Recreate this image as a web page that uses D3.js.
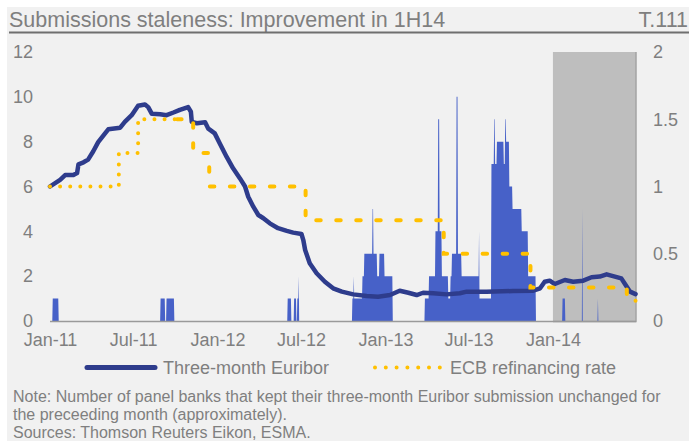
<!DOCTYPE html>
<html><head><meta charset="utf-8">
<script src="https://cdn.jsdelivr.net/npm/d3@7"></script>
<style>
html,body{margin:0;padding:0;background:#fff;}
svg{display:block;font-family:"Liberation Sans",Arial,sans-serif;}
</style></head><body>
<svg id="c" width="689" height="441"></svg>
<script>
// ---------- data ----------
const titleText = "Submissions staleness: Improvement in 1H14";
const tableId = "T.111";
const xTickDates = ["2011-01-01","2011-07-01","2012-01-01","2012-07-01","2013-01-01","2013-07-01","2014-01-01"];
const leftTicks = [0,2,4,6,8,10,12];
const rightTicks = [0,0.5,1,1.5,2];
const shadedPeriod = ["2014-01-01","2014-07-01"];
const legendLabels = ["Three-month Euribor","ECB refinancing rate"];
const notes = [
  "Note: Number of panel banks that kept their three-month Euribor submission unchanged for",
  "the preceeding month (approximately).",
  "Sources: Thomson Reuters Eikon, ESMA."
];
// number of panel banks with unchanged submission (value holds from date until next entry)
const staleBanks = [
  ["2011-01-01",0],["2011-01-07",1],["2011-01-20",0],
  ["2011-08-30",1],["2011-09-09",0],["2011-09-12",1],["2011-09-29",0],
  ["2012-06-02",1],["2012-06-10",0],["2012-06-16",1],["2012-06-21",0],["2012-06-23",1],["2012-06-26",2],["2012-06-27",0],
  ["2012-10-21",1],["2012-10-24",2],["2012-10-25",1],["2012-11-12",2],["2012-11-16",3],["2012-12-04",5],["2012-12-06",3],
  ["2012-12-14",2],["2012-12-19",3],["2012-12-30",2],["2013-01-17",0],
  ["2013-03-28",1],["2013-04-06",2],["2013-04-20",4],["2013-04-26",9],["2013-04-29",4],["2013-05-04",2],["2013-05-18",1],
  ["2013-05-23",2],["2013-05-26",3],["2013-06-05",10],["2013-06-08",3],["2013-06-16",2],["2013-07-24",4],["2013-07-25",1],
  ["2013-08-20",7],["2013-08-26",9],["2013-08-28",7],["2013-09-01",8],["2013-09-16",7],["2013-09-19",9],["2013-09-21",8],
  ["2013-09-28",6],["2013-10-05",5],["2013-10-25",4],["2013-11-08",2],["2013-11-25",0],
  ["2014-01-22",1],["2014-01-28",0],["2014-03-06",5],["2014-03-07",0],["2014-04-09",1],["2014-04-10",0],["2014-06-30",0]
];
// three-month Euribor, %
const euribor = [
  ["2011-01-01",1.00],["2011-01-23",1.05],["2011-02-03",1.085],["2011-02-21",1.085],["2011-03-01",1.10],["2011-03-04",1.165],
  ["2011-03-15",1.18],["2011-03-25",1.20],["2011-04-05",1.26],["2011-04-16",1.33],["2011-05-01",1.395],["2011-05-08",1.425],
  ["2011-06-03",1.437],["2011-06-13",1.48],["2011-06-28",1.53],["2011-07-12",1.60],["2011-07-27",1.61],["2011-08-03",1.59],
  ["2011-08-11",1.54],["2011-08-29",1.537],["2011-09-12",1.53],["2011-09-27",1.55],["2011-10-11",1.57],["2011-10-29",1.59],
  ["2011-11-04",1.556],["2011-11-06",1.48],["2011-11-17",1.47],["2011-12-05",1.477],["2011-12-12",1.43],["2011-12-26",1.395],
  ["2012-01-06",1.32],["2012-01-21",1.22],["2012-02-04",1.135],["2012-02-19",1.06],["2012-03-01",1.00],["2012-03-08",0.924],
  ["2012-03-19",0.85],["2012-03-30",0.788],["2012-04-10",0.764],["2012-04-24",0.726],["2012-05-12",0.69],["2012-05-31",0.67],
  ["2012-06-14",0.657],["2012-07-02",0.647],["2012-07-06",0.602],["2012-07-10",0.528],["2012-07-20",0.429],["2012-08-04",0.355],
  ["2012-08-22",0.292],["2012-09-09",0.243],["2012-09-28",0.218],["2012-10-23",0.198],["2012-11-21",0.186],["2012-12-16",0.181],
  ["2013-01-11",0.193],["2013-02-01",0.225],["2013-02-20",0.21],["2013-03-10",0.193],["2013-03-24",0.21],["2013-04-15",0.206],
  ["2013-05-14",0.198],["2013-06-12",0.206],["2013-06-27",0.218],["2013-08-09",0.218],["2013-10-06",0.223],["2013-11-19",0.225],
  ["2013-12-04",0.243],["2013-12-14",0.292],["2013-12-25",0.30],["2014-01-05",0.275],["2014-01-27",0.305],["2014-02-14",0.292],
  ["2014-03-08",0.30],["2014-03-26",0.325],["2014-04-13",0.33],["2014-04-28",0.347],["2014-05-16",0.33],["2014-05-30",0.317],
  ["2014-06-07",0.275],["2014-06-18",0.218],["2014-06-30",0.20]
];
// ECB main refinancing rate, % (step changes)
const ecbRate = [
  ["2011-01-01",1.00],["2011-05-31",1.25],["2011-07-12",1.50],["2011-11-09",1.25],["2011-12-14",1.00],
  ["2012-07-11",0.75],["2013-05-08",0.50],["2013-11-13",0.25],["2014-06-11",0.15],["2014-06-30",0.15]
];
const ecbStyleSwitch = ["2011-09-30","2011-10-05"]; // dotted until first date, dashed from second

// ---------- drawing ----------
const parse = d3.timeParse("%Y-%m-%d");
const svg = d3.select("#c");
const W = 689, H = 441;
const plot = {left:50, right:636, top:52, bottom:321};
const textCol = "#7f7f7f";

svg.append("rect").attr("x",7).attr("y",7).attr("width",W-7).attr("height",H-7).attr("fill","#f1f1f1");

// title
svg.append("text").attr("x",9).attr("y",27).attr("fill",textCol).style("font-size","21.5px").text(titleText);
svg.append("text").attr("x",688).attr("y",27).attr("text-anchor","end").attr("fill",textCol).style("font-size","21.5px").text(tableId);
svg.append("line").attr("x1",9).attr("x2",689).attr("y1",32.5).attr("y2",32.5).attr("stroke","#6f6f6f").attr("stroke-width",2);

const x = d3.scaleTime().domain([parse("2011-01-01"), parse("2014-07-01")]).range([plot.left, plot.right]);
const yL = d3.scaleLinear().domain([0,12]).range([plot.bottom, plot.top]);
const yR = d3.scaleLinear().domain([0,2]).range([plot.bottom, plot.top]);

// shaded period
svg.append("rect")
  .attr("x", x(parse(shadedPeriod[0]))).attr("y", plot.top)
  .attr("width", x(parse(shadedPeriod[1])) - x(parse(shadedPeriod[0])))
  .attr("height", plot.bottom - plot.top)
  .attr("fill","#bebebe");
svg.append("path")
  .attr("d", `M${x(parse(shadedPeriod[1]))},${plot.top} V${plot.bottom+0.5} H${x(parse(shadedPeriod[0]))}`)
  .attr("fill","none").attr("stroke","#a4a4a4").attr("stroke-width",1.5);

// stale banks area: expand step changes to daily observations, drawn as a linear area (as with daily data)
const changes = staleBanks.map(d => ({t: parse(d[0]), v: d[1]}));
const days = d3.timeDay.range(changes[0].t, d3.timeDay.offset(changes[changes.length-1].t, 1));
let ci = 0;
const daily = days.map(t => {
  while (ci + 1 < changes.length && changes[ci+1].t <= t) ci++;
  return {t, v: changes[ci].v};
});
svg.append("path").datum(daily)
  .attr("d", d3.area().x(d => x(d.t)).y0(yL(0)).y1(d => yL(d.v)))
  .attr("fill","#4761c8");

// baseline
svg.append("line").attr("x1",plot.left).attr("x2",plot.right).attr("y1",plot.bottom+0.5).attr("y2",plot.bottom+0.5)
  .attr("stroke","#9a9a9a").attr("stroke-width",1.5);

// Euribor
const eur = euribor.map(d => ({t: parse(d[0]), v: d[1]}));
svg.append("path").datum(eur)
  .attr("d", d3.line().x(d => x(d.t)).y(d => yR(d.v)))
  .attr("fill","none").attr("stroke","#2e3c8c").attr("stroke-width",4.5)
  .attr("stroke-linejoin","round").attr("stroke-linecap","round");

// ECB
const ecb = ecbRate.map(d => ({t: parse(d[0]), v: d[1]}));
function valueAt(t){ let v = ecb[0].v; for (const d of ecb) if (d.t <= t) v = d.v; return v; }
function slice(t0, t1){
  const pts = [{t:t0, v:valueAt(t0)}];
  ecb.forEach(d => { if (d.t > t0 && d.t < t1) pts.push(d); });
  pts.push({t:t1, v:valueAt(t1)});
  return pts;
}
const ecbLine = d3.line().x(d => x(d.t)).y(d => yR(d.v)).curve(d3.curveStepAfter);
const tStart = ecb[0].t, tEnd = ecb[ecb.length-1].t;
svg.append("path").datum(slice(tStart, parse(ecbStyleSwitch[0])))
  .attr("d", ecbLine).attr("fill","none").attr("stroke","#ffc000").attr("stroke-width",4)
  .attr("stroke-linecap","round").attr("stroke-dasharray","0,10.1");
svg.append("path").datum(slice(parse(ecbStyleSwitch[1]), tEnd))
  .attr("d", ecbLine).attr("fill","none").attr("stroke","#ffc000").attr("stroke-width",4)
  .attr("stroke-linecap","round").attr("stroke-dasharray","4.5,15.5");

// axes
const fs = "18px";
const gx = svg.append("g").attr("transform",`translate(0,${plot.bottom})`)
  .call(d3.axisBottom(x).tickValues(xTickDates.map(parse)).tickFormat(d3.timeFormat("%b-%y")).tickSize(0).tickPadding(12));
const gl = svg.append("g").attr("transform",`translate(${plot.left},0)`)
  .call(d3.axisLeft(yL).tickValues(leftTicks).tickSize(0).tickPadding(17));
const gr = svg.append("g").attr("transform",`translate(${plot.right},0)`)
  .call(d3.axisRight(yR).tickValues(rightTicks).tickFormat(d3.format("~g")).tickSize(0).tickPadding(17));
[gx,gl,gr].forEach(g => {
  g.select(".domain").remove();
  g.selectAll("text").attr("fill",textCol).style("font-size",fs).style("font-family",'"Liberation Sans",Arial,sans-serif');
});

// legend
const ly = 367.5;
svg.append("line").attr("x1",87).attr("x2",155).attr("y1",ly).attr("y2",ly)
  .attr("stroke","#2e3c8c").attr("stroke-width",5).attr("stroke-linecap","round");
svg.append("text").attr("x",163).attr("y",ly+6).attr("fill",textCol).style("font-size",fs).text(legendLabels[0]);
svg.append("line").attr("x1",375).attr("x2",440).attr("y1",ly).attr("y2",ly)
  .attr("stroke","#ffc000").attr("stroke-width",4).attr("stroke-linecap","round").attr("stroke-dasharray","0,10.8");
svg.append("text").attr("x",450).attr("y",ly+6).attr("fill",textCol).style("font-size",fs).text(legendLabels[1]);

// notes
notes.forEach((n,i) => {
  svg.append("text").attr("x",13).attr("y",402 + i*18).attr("fill",textCol).style("font-size","16px").text(n);
});
</script>
</body></html>
